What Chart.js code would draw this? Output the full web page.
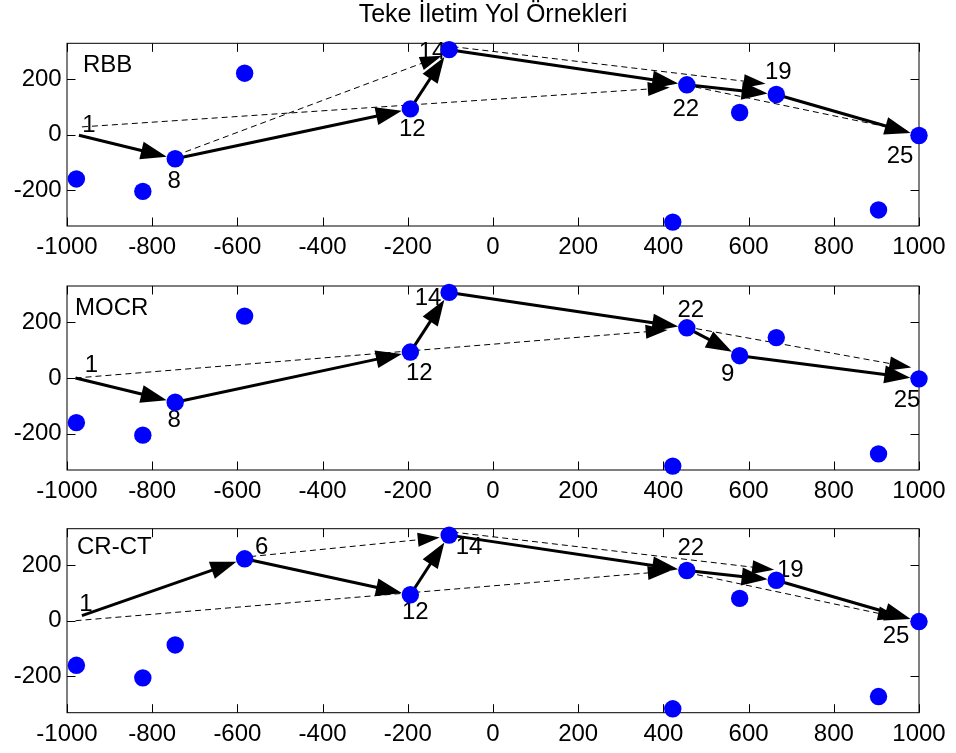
<!DOCTYPE html>
<html>
<head>
<meta charset="utf-8">
<script src="https://cdn.jsdelivr.net/npm/chart.js@4.4.1/dist/chart.umd.min.js"></script>
<style>
  body { margin: 0; background: #fff; }
  #kap { position: relative; width: 956px; height: 753px; }
  canvas { position: absolute; left: 0; top: 0; }
</style>
</head>
<body>
<div id="kap">
  <canvas id="g1" width="956" height="753"></canvas>
  <canvas id="g2" width="956" height="753"></canvas>
  <canvas id="g3" width="956" height="753"></canvas>
</div>
<script>
// düğümlerin konumları (mavi noktalar)
const noktaX = [-978, -822, -746, -583, -194, -103, 422, 455, 579, 665, 905, 1000];
const noktaY = [-160, -205, -87, 222, 93, 307, -316, 180, 80, 145, -272, -3];
// düğüm numaraları (etiketsizler null)
const noktaNo = [null, null, 8, 6, 12, 14, null, 22, 9, 19, null, 25];

// kaynak düğüm (1) - her grafikte okun başladığı yer
const kaynakX = [-972, -980, -965];
const kaynakY = [-2, 0, 18];

// seçilen yollar (kalın oklar)
const yolRBB = [1, 8, 12, 14, 22, 19, 25];
const yolMOCR = [1, 8, 12, 14, 22, 9, 25];
const yolCRCT = [1, 6, 12, 14, 22, 19, 25];

// kesikli oklar [x1, y1, x2, y2]
const kesikRBB = [[-965, 28, 415, 170], [-722, -62, -120, 285], [-95, 318, 640, 184], [475, 172, 975, 12]];
const kesikMOCR = [[-980, 0, 410, 172], [477, 177, 982, 38]];
const kesikCRCT = [[-570, 230, -125, 298], [-980, 0, 415, 178], [-95, 318, 660, 183], [479, 165, 955, 10]];

// eksen tikleri
const xTikler = [-1000, -800, -600, -400, -200, 0, 200, 400, 600, 800, 1000];
const yTikler = [-200, 0, 200];

const adlar = ['RBB', 'MOCR', 'CR-CT'];
const yollar = [yolRBB, yolMOCR, yolCRCT];
const kesikler = [kesikRBB, kesikMOCR, kesikCRCT];

// etiketlerin düğüme göre kaydırması (piksel)
const etiketKaydir = [
  {1: [10, -10], 8: [-1, 23], 12: [2, 20], 14: [-17, 3], 22: [-1, 25], 19: [2, -22], 25: [-19, 21]},
  {1: [16, -13], 8: [-1, 18], 12: [9, 21], 14: [-21, 6], 22: [4, -17], 9: [-12, 19], 25: [-12, 22]},
  {1: [4, -11], 6: [17, -11], 12: [5, 18], 14: [20, 12], 22: [4, -22], 19: [14, -10], 25: [-23, 15]}
];
const adKaydir = [[16, 22], [8, 22], [10, 19]];

const yaziTipi = "'Liberation Sans', Arial, sans-serif";
const yaricap = 8.7;

function konum(no, i) {
  if (no === 1) return [kaynakX[i], kaynakY[i]];
  const k = noktaNo.indexOf(no);
  return [noktaX[k], noktaY[k]];
}

function ok(ctx, x1, y1, x2, y2, kalin) {
  const dx = x2 - x1, dy = y2 - y1, L = Math.hypot(dx, dy);
  const ux = dx / L, uy = dy / L;
  const bas = kalin ? 26 : 22, yari = kalin ? 9 : 7;
  const bx = x2 - ux * bas, by = y2 - uy * bas;
  ctx.beginPath();
  ctx.moveTo(x1, y1);
  ctx.lineTo(bx + ux * 2, by + uy * 2);
  ctx.stroke();
  ctx.save();
  ctx.setLineDash([]);
  ctx.beginPath();
  ctx.moveTo(x2, y2);
  ctx.lineTo(bx - uy * yari, by + ux * yari);
  ctx.lineTo(bx + uy * yari, by - ux * yari);
  ctx.closePath();
  ctx.fill();
  ctx.restore();
}

// çerçeve, içe dönük tikler, etiketler ve oklar
const yolCiz = {
  id: 'yolCiz',
  beforeDatasetsDraw(chart, args, opts) {
    const i = opts.sira;
    const {ctx, chartArea: a, scales: {x, y}} = chart;
    ctx.save();
    ctx.strokeStyle = '#000';
    ctx.fillStyle = '#000';
    ctx.lineWidth = 1;
    ctx.strokeRect(a.left, a.top, a.right - a.left, a.bottom - a.top);
    const tl = 8.5;
    ctx.beginPath();
    xTikler.forEach(v => {
      const px = Math.round(x.getPixelForValue(v)) + 0.5;
      ctx.moveTo(px, a.bottom); ctx.lineTo(px, a.bottom - tl);
      ctx.moveTo(px, a.top); ctx.lineTo(px, a.top + tl);
    });
    yTikler.forEach(v => {
      const py = Math.round(y.getPixelForValue(v)) + 0.5;
      ctx.moveTo(a.left, py); ctx.lineTo(a.left + tl, py);
      ctx.moveTo(a.right, py); ctx.lineTo(a.right - tl, py);
    });
    ctx.stroke();

    // etiketler
    ctx.font = '24px ' + yaziTipi;
    ctx.textBaseline = 'middle';
    ctx.textAlign = 'left';
    ctx.fillText(adlar[i], a.left + adKaydir[i][0], a.top + adKaydir[i][1]);
    ctx.textAlign = 'center';
    yollar[i].forEach(no => {
      const [vx, vy] = konum(no, i);
      const d = etiketKaydir[i][no];
      ctx.fillText(String(no), x.getPixelForValue(vx) + d[0], y.getPixelForValue(vy) + d[1]);
    });

    // kesikli oklar
    ctx.lineWidth = 1;
    ctx.setLineDash([6, 4]);
    kesikler[i].forEach(k => {
      ok(ctx, x.getPixelForValue(k[0]), y.getPixelForValue(k[1]),
        x.getPixelForValue(k[2]), y.getPixelForValue(k[3]), false);
    });

    // kalın oklar
    ctx.setLineDash([]);
    ctx.lineWidth = 3;
    const yol = yollar[i];
    for (let j = 0; j < yol.length - 1; j++) {
      const [ax, ay] = konum(yol[j], i);
      const [bx, by] = konum(yol[j + 1], i);
      const x1 = x.getPixelForValue(ax), y1 = y.getPixelForValue(ay);
      let x2 = x.getPixelForValue(bx), y2 = y.getPixelForValue(by);
      const L = Math.hypot(x2 - x1, y2 - y1);
      x2 -= (x2 - x1) / L * yaricap;
      y2 -= (y2 - y1) / L * yaricap;
      ok(ctx, x1, y1, x2, y2, true);
    }
    ctx.restore();
  }
};

Chart.defaults.font.family = yaziTipi;
Chart.defaults.color = '#000';

// her alt grafiğin sayfadaki üst/alt boşlukları (tüm tuvaller 956x753)
const yerlesim = [
  {ust: 0, alt: 497},
  {ust: 286, alt: 253},
  {ust: 528.7, alt: 10.3}
];

['g1', 'g2', 'g3'].forEach((id, i) => {
  new Chart(document.getElementById(id), {
    type: 'scatter',
    data: {
      datasets: [{
        data: noktaX.map((v, k) => ({x: v, y: noktaY[k]})),
        backgroundColor: '#0000ff',
        borderWidth: 0,
        pointRadius: yaricap,
        clip: false
      }]
    },
    options: {
      responsive: false,
      animation: false,
      events: [],
      layout: {autoPadding: false, padding: {top: yerlesim[i].ust, right: 37, left: 0, bottom: yerlesim[i].alt}},
      plugins: {
        legend: {display: false},
        tooltip: {enabled: false},
        title: {
          display: i === 0,
          text: 'Teke İletim Yol Örnekleri',
          fullSize: false,
          font: {size: 25, weight: 'normal'},
          color: '#000',
          padding: {top: 0, bottom: 13.3}
        },
        yolCiz: {sira: i}
      },
      scales: {
        x: {
          type: 'linear', min: -1000, max: 1000,
          grid: {display: false, drawTicks: false},
          border: {display: false},
          afterBuildTicks: s => { s.ticks = xTikler.map(v => ({value: v})); },
          afterFit: s => { s.height = 30; },
          ticks: {font: {size: 24}, padding: 7, maxRotation: 0, autoSkip: false, callback: v => String(v)}
        },
        y: {
          type: 'linear', min: -330, max: 330,
          grid: {display: false, drawTicks: false},
          border: {display: false},
          afterBuildTicks: s => { s.ticks = yTikler.map(v => ({value: v})); },
          afterFit: s => { s.width = 67; },
          ticks: {font: {size: 24}, padding: 5.3, callback: v => String(v)}
        }
      }
    },
    plugins: [yolCiz]
  });
});
</script>
</body>
</html>
